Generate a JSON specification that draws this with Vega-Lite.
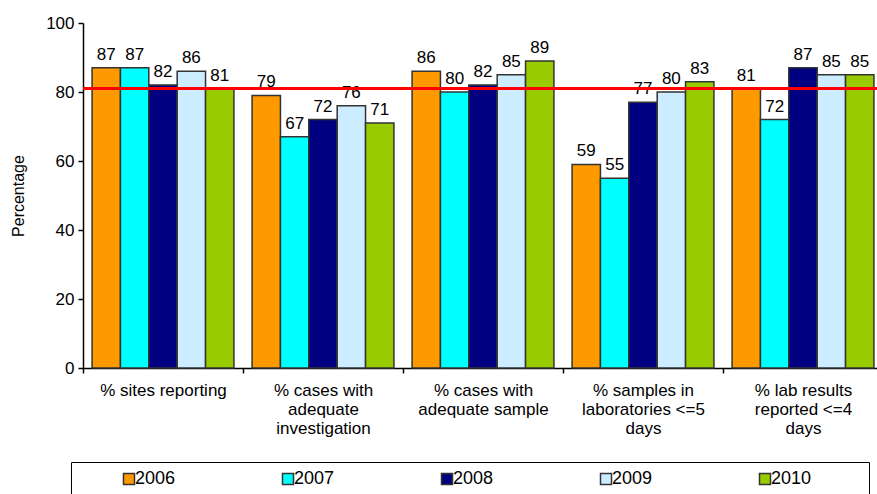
{
  "$schema": "https://vega.github.io/schema/vega-lite/v6.json",
  "width": 800,
  "height": 345,
  "autosize": "none",
  "padding": {"left": 83, "top": 23, "right": 0, "bottom": 126},
  "background": "white",
  "config": {
    "view": {"stroke": null},
    "font": "Liberation Sans",
    "axis": {"domainColor": "#000", "domainWidth": 1.5, "tickColor": "#000", "tickWidth": 1.5, "tickSize": 5, "labelColor": "#000", "titleColor": "#000", "grid": false}
  },
  "layer": [
    {
      "data": {
        "values": [
          {"indicator": "% sites reporting", "year": "2006", "value": 87},
          {"indicator": "% sites reporting", "year": "2007", "value": 87},
          {"indicator": "% sites reporting", "year": "2008", "value": 82},
          {"indicator": "% sites reporting", "year": "2009", "value": 86},
          {"indicator": "% sites reporting", "year": "2010", "value": 81},
          {"indicator": "% cases with adequate investigation", "year": "2006", "value": 79},
          {"indicator": "% cases with adequate investigation", "year": "2007", "value": 67},
          {"indicator": "% cases with adequate investigation", "year": "2008", "value": 72},
          {"indicator": "% cases with adequate investigation", "year": "2009", "value": 76},
          {"indicator": "% cases with adequate investigation", "year": "2010", "value": 71},
          {"indicator": "% cases with adequate sample", "year": "2006", "value": 86},
          {"indicator": "% cases with adequate sample", "year": "2007", "value": 80},
          {"indicator": "% cases with adequate sample", "year": "2008", "value": 82},
          {"indicator": "% cases with adequate sample", "year": "2009", "value": 85},
          {"indicator": "% cases with adequate sample", "year": "2010", "value": 89},
          {"indicator": "% samples in laboratories <=5 days", "year": "2006", "value": 59},
          {"indicator": "% samples in laboratories <=5 days", "year": "2007", "value": 55},
          {"indicator": "% samples in laboratories <=5 days", "year": "2008", "value": 77},
          {"indicator": "% samples in laboratories <=5 days", "year": "2009", "value": 80},
          {"indicator": "% samples in laboratories <=5 days", "year": "2010", "value": 83},
          {"indicator": "% lab results reported <=4 days", "year": "2006", "value": 81},
          {"indicator": "% lab results reported <=4 days", "year": "2007", "value": 72},
          {"indicator": "% lab results reported <=4 days", "year": "2008", "value": 87},
          {"indicator": "% lab results reported <=4 days", "year": "2009", "value": 85},
          {"indicator": "% lab results reported <=4 days", "year": "2010", "value": 85}
        ]
      },
      "encoding": {
        "x": {
          "field": "indicator", "type": "nominal", "sort": null,
          "scale": {"paddingInner": 0, "paddingOuter": 0},
          "axis": {
            "title": null, "labelAngle": 0, "tickBand": "extent", "labelFontSize": 17, "labelLineHeight": 19,
            "labelPadding": 9, "labelLimit": 300, "labelOverlap": false,
            "labelExpr": "datum.value == '% cases with adequate investigation' ? ['% cases with', 'adequate', 'investigation'] : datum.value == '% cases with adequate sample' ? ['% cases with', 'adequate sample'] : datum.value == '% samples in laboratories <=5 days' ? ['% samples in', 'laboratories <=5', 'days'] : datum.value == '% lab results reported <=4 days' ? ['% lab results', 'reported <=4', 'days'] : datum.value"
          }
        },
        "xOffset": {"field": "year", "type": "nominal", "scale": {"paddingInner": 0, "paddingOuter": 0.32}},
        "y": {
          "field": "value", "type": "quantitative", "title": "Percentage",
          "scale": {"domain": [0, 100], "nice": false},
          "axis": {"title": "Percentage", "titleFontSize": 16, "titleFontWeight": "normal", "titlePadding": 19, "values": [0, 20, 40, 60, 80, 100], "labelFontSize": 17, "labelPadding": 4}
        }
      },
      "layer": [
        {
          "mark": {"type": "bar", "stroke": "#333", "strokeWidth": 1.5},
          "encoding": {
            "color": {
              "field": "year", "type": "nominal",
              "scale": {"domain": ["2006", "2007", "2008", "2009", "2010"], "range": ["#FF9900", "#00FFFF", "#000080", "#CCECFF", "#99CC00"]},
              "legend": {
                "title": "\u00a0", "titleOrient": "right", "titlePadding": 50, "titleFontSize": 12,
                "orient": "none", "legendX": -12, "legendY": 439, "direction": "horizontal", "columns": 5,
                "symbolType": "square", "symbolSize": 121, "symbolStrokeColor": "#333", "symbolStrokeWidth": 1.5,
                "labelFontSize": 18, "labelColor": "#000", "symbolOffset": 41, "labelOffset": -3, "columnPadding": 62,
                "padding": 8, "strokeColor": "#000", "fillColor": "white"
              }
            }
          }
        },
        {
          "mark": {"type": "text", "baseline": "bottom", "dy": -4, "fontSize": 17, "color": "#000"},
          "encoding": {"text": {"field": "value", "type": "quantitative"}}
        }
      ]
    },
    {
      "data": {"values": [{"target": 81}]},
      "mark": {"type": "rule", "color": "#FF0000", "strokeWidth": 3},
      "encoding": {"y": {"field": "target", "type": "quantitative", "title": "Percentage"}}
    }
  ]
}
